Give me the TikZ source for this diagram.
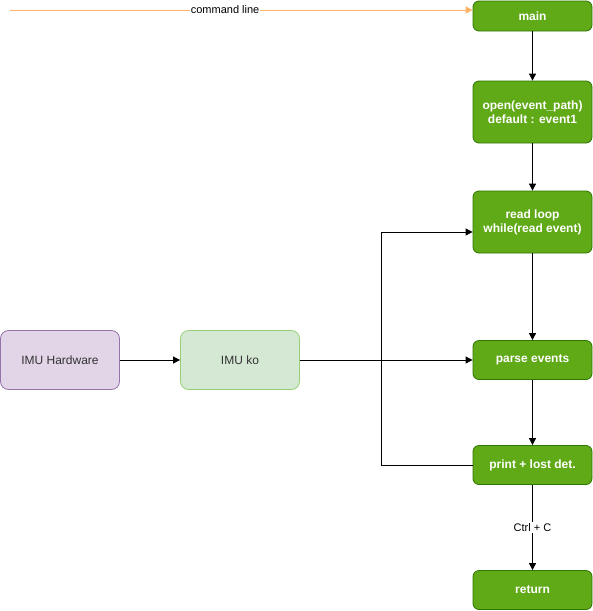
\documentclass[tikz,border=0pt]{standalone}
\usepackage{fontspec}
\setmainfont{Liberation Sans}
\usetikzlibrary{arrows.meta}
\definecolor{gfill}{HTML}{60A917}
\definecolor{gline}{HTML}{2D7600}
\definecolor{pfill}{HTML}{E1D5E7}
\definecolor{pline}{HTML}{9673A6}
\definecolor{lgfill}{HTML}{D5E8D4}
\definecolor{lgline}{HTML}{97D077}
\definecolor{orng}{HTML}{FFB366}
\definecolor{txt}{HTML}{333333}
\begin{document}
\begin{tikzpicture}[x=1pt,y=-1pt,
  gbox/.style={draw=gline,fill=gfill,rounded corners=6pt,minimum width=119pt,
    text=white,font=\fontsize{12}{14}\selectfont\bfseries,align=center,line width=0.8pt,inner sep=0pt},
  sbox/.style={rounded corners=8pt,minimum width=119pt,minimum height=59pt,
    text=txt,font=\fontsize{12}{14}\selectfont,align=center,line width=0.8pt,inner sep=0pt},
  conn/.style={-{Triangle[length=7pt,width=7pt]},line width=0.8pt,black},
  lbl/.style={fill=white,font=\fontsize{11}{13}\selectfont,inner sep=1pt,text=black}]
\useasboundingbox (0,0) rectangle (593,611);
\node[gbox,minimum height=30pt] (main) at (532.5,16) {main};
\node[gbox,minimum height=62pt] (open) at (532.5,112) {open(event\_path)\\default : event1};
\node[gbox,minimum height=62pt] (read) at (532.5,222) {read loop\\while(read event)};
\node[gbox,minimum height=39pt] (parse) at (532.5,360) {parse events};
\node[gbox,minimum height=39pt] (print) at (532.5,465) {print + lost det.};
\node[gbox,minimum height=39pt] (ret) at (532.5,590) {return};
\node[sbox,draw=pline,fill=pfill] (hw) at (60,360) {IMU Hardware};
\node[sbox,draw=lgline,fill=lgfill] (ko) at (240,360) {IMU ko};
\coordinate (cl) at (10,10);
\draw[-{Triangle[length=7pt,width=7pt]},line width=1pt,orng] (cl) -- (main.west |- cl)
  node[lbl,pos=0.465] {command line};
\draw[conn] (main) -- (open);
\draw[conn] (open) -- (read);
\draw[conn] (read) -- (parse);
\draw[conn] (parse) -- (print);
\draw[conn] (print) -- node[lbl] {Ctrl + C} (ret);
\draw[conn] (hw) -- (ko);
\draw[conn] (ko) -- (parse);
\coordinate (bend1) at (381,465);
\coordinate (bend2) at (381,232);
\draw[conn] (print.west) -- (bend1) -- (bend2) -- (read.west |- bend2);
\end{tikzpicture}
\end{document}
